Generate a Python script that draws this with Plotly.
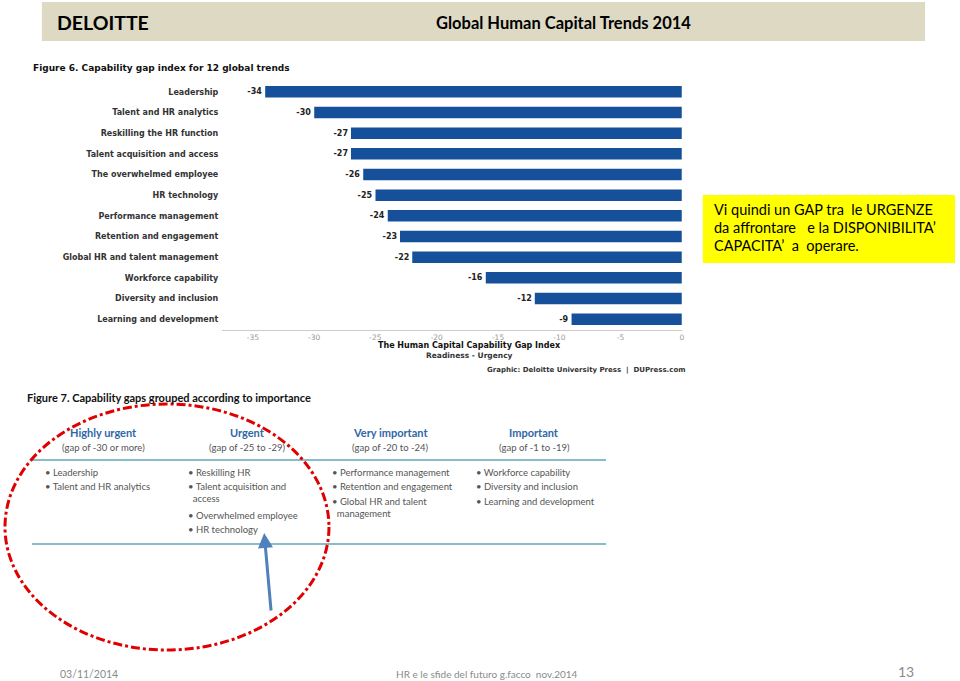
import plotly.graph_objects as go

W, H = 960, 681

# ---------------- data ----------------
trends = ["Leadership", "Talent and HR analytics", "Reskilling the HR function",
          "Talent acquisition and access", "The overwhelmed employee", "HR technology",
          "Performance management", "Retention and engagement",
          "Global HR and talent management", "Workforce capability",
          "Diversity and inclusion", "Learning and development"]
gap_index = [-34, -30, -27, -27, -26, -25, -24, -23, -22, -16, -12, -9]
x_ticks = [-35, -30, -25, -20, -15, -10, -5, 0]
x_tick_labels = ["-35", "-30", "-25", "-20", "-15", "-10", "-5", "0"]

group_titles = ["Highly urgent", "Urgent", "Very important", "Important"]
group_ranges = ["(gap of -30 or more)", "(gap of -25 to -29)", "(gap of -20 to -24)", "(gap of -1 to -19)"]
group_items = [
    ["Leadership", "Talent and HR analytics"],
    ["Reskilling HR", "Talent acquisition and<br>access", "Overwhelmed employee", "HR technology"],
    ["Performance management", "Retention and engagement", "Global HR and talent<br>management"],
    ["Workforce capability", "Diversity and inclusion", "Learning and development"],
]


def X(px):
    return px / W


def Y(py):
    return 1 - py / H


fig = go.Figure()
fig.add_trace(go.Bar(
    y=trends, x=gap_index, orientation="h",
    marker=dict(color="#17509A", line=dict(width=0)),
    width=0.56,
    text=[str(v) for v in gap_index], textposition="outside",
    textfont=dict(family="DejaVu Sans", size=8, color="#222", weight="bold"),
    cliponaxis=False, hoverinfo="skip",
))

shapes = []
annotations = []

# header band
shapes.append(dict(type="rect", xref="paper", yref="paper", x0=X(42), x1=X(928), y0=Y(41), y1=Y(2),
                   fillcolor="#DDD9C3", line=dict(width=0), layer="below"))
annotations.append(dict(text="<b>DELOITTE</b>", x=X(55), y=Y(22), xanchor="left", yanchor="middle",
                        font=dict(family="Lato", size=19.5, color="#000")))
annotations.append(dict(text="<b>Global Human Capital Trends 2014</b>", x=X(565), y=Y(23), xanchor="center",
                        yanchor="middle", font=dict(family="Lato", size=16.5, color="#000")))

# figure 6 title
annotations.append(dict(text="<b>Figure 6. Capability gap index for 12 global trends</b>", x=X(31), y=Y(68),
                        xanchor="left", yanchor="middle", font=dict(family="DejaVu Sans", size=9, color="#111")))
# axis titles
annotations.append(dict(text="<b>The Human Capital Capability Gap Index</b>", x=X(471), y=Y(346),
                        xanchor="center", yanchor="middle", font=dict(family="DejaVu Sans", size=8, color="#111")))
annotations.append(dict(text="<b>Readiness - Urgency</b>", x=X(471), y=Y(355),
                        xanchor="center", yanchor="middle", font=dict(family="DejaVu Sans", size=7.5, color="#333")))
annotations.append(dict(text="<b>Graphic: Deloitte University Press  |  DUPress.com</b>", x=X(487), y=Y(370),
                        xanchor="left", yanchor="middle", font=dict(family="DejaVu Sans", size=7, color="#333")))

# yellow note
shapes.append(dict(type="rect", xref="paper", yref="paper", x0=X(705), x1=X(958), y0=Y(263), y1=Y(195),
                   fillcolor="#FFFF00", line=dict(width=0), layer="below"))
note_lines = ["Vi quindi un GAP tra\u00a0 le URGENZE", "da affrontare \u00a0 e la DISPONIBILITA\u2019",
              "CAPACITA\u2019\u00a0 a\u00a0 operare."]
for i, ln in enumerate(note_lines):
    annotations.append(dict(text=ln, x=X(714), y=Y(210 + 18 * i), xanchor="left", yanchor="middle",
                            font=dict(family="Lato", size=14.5, color="#000")))

# figure 7
annotations.append(dict(text="<b>Figure 7. Capability gaps grouped according to importance</b>", x=X(25), y=Y(397),
                        xanchor="left", yanchor="middle", font=dict(family="Lato", size=11, color="#111")))
col_centers = [104, 248, 392, 536]
col_left = [43, 187, 331, 475]
for i in range(4):
    annotations.append(dict(text="<b>" + group_titles[i] + "</b>", x=X(col_centers[i]), y=Y(432),
                            xanchor="center", yanchor="middle",
                            font=dict(family="Lato", size=11, color="#2F67A6")))
    annotations.append(dict(text=group_ranges[i], x=X(col_centers[i]), y=Y(447),
                            xanchor="center", yanchor="middle",
                            font=dict(family="Lato", size=9.5, color="#555")))
    yy = 472
    for item in group_items[i]:
        n = item.count("<br>") + 1
        txt = "\u2022 " + item.replace("<br>", "<br>\u00a0\u00a0")
        annotations.append(dict(text=txt, x=X(col_left[i]), y=Y(yy - 7), xanchor="left", yanchor="top",
                                align="left", font=dict(family="Lato", size=9.5, color="#555")))
        yy += 14.3 * n
for ly in (460, 544):
    shapes.append(dict(type="line", xref="paper", yref="paper", x0=X(32), x1=X(608), y0=Y(ly), y1=Y(ly),
                       line=dict(color="#86BCCB", width=2)))

# red dash-dot ellipse
shapes.append(dict(type="circle", xref="paper", yref="paper", x0=X(5), x1=X(330), y0=Y(650), y1=Y(404),
                   line=dict(color="#E00000", width=3, dash="dashdot")))
# blue arrow
annotations.append(dict(text="", x=X(265), y=Y(533), ax=7, ay=79, axref="pixel", ayref="pixel",
                        showarrow=True, arrowhead=2, arrowsize=1, arrowwidth=3, arrowcolor="#4F81BD"))

# footer
annotations.append(dict(text="03/11/2014", x=X(58), y=Y(674), xanchor="left", yanchor="middle",
                        font=dict(family="Lato", size=10.5, color="#8A8A8A")))
annotations.append(dict(text="HR e le sfide del futuro g.facco\u00a0 nov.2014", x=X(489), y=Y(674),
                        xanchor="center", yanchor="middle", font=dict(family="Lato", size=10, color="#8A8A8A")))
annotations.append(dict(text="13", x=X(919), y=Y(671), xanchor="right", yanchor="middle",
                        font=dict(family="Lato", size=14, color="#8A8A8A")))

for a in annotations:
    a.setdefault("xref", "paper")
    a.setdefault("yref", "paper")
    a.setdefault("showarrow", False)

fig.update_layout(
    width=W, height=H, margin=dict(l=0, r=0, t=0, b=0),
    paper_bgcolor="white", plot_bgcolor="white", showlegend=False,
    shapes=shapes, annotations=annotations,
    xaxis=dict(domain=[X(223), X(684)], range=[-37.5, 0], tickvals=x_ticks, ticktext=x_tick_labels,
               showgrid=False, zeroline=False, showline=True, linecolor="#CCCCCC", linewidth=1,
               ticks="", tickfont=dict(family="DejaVu Sans", size=7.5, color="#999"), fixedrange=True),
    yaxis=dict(domain=[Y(329.5), Y(81.5)], autorange="reversed", showgrid=False, zeroline=False,
               showline=False, ticks="", ticklabelstandoff=3,
               tickfont=dict(family="DejaVu Sans", size=8, color="#333", weight="bold"), fixedrange=True),
    bargap=0.44,
)

fig.write_html("out.html", config={"displayModeBar": False},
               post_script="document.body.style.margin='0';document.body.style.overflow='hidden';")
